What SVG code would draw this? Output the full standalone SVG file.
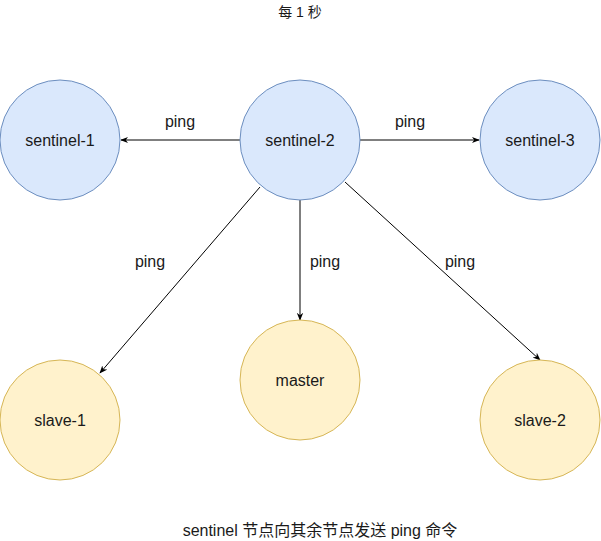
<svg xmlns="http://www.w3.org/2000/svg" width="601" height="541" viewBox="0 0 601 541">
<style>
text{font-family:"Liberation Sans","Noto Sans CJK SC",sans-serif;font-size:16px;fill:#1a1a1a;text-anchor:middle;dominant-baseline:central}
.title{font-size:14px}
.blue{fill:#dae8fc;stroke:#6c8ebf;stroke-width:1}
.yel{fill:#fff2cc;stroke:#d6b656;stroke-width:1}
.edge{stroke:#000;stroke-width:1;fill:none;marker-end:url(#arr)}
</style>
<defs>
<marker id="arr" viewBox="0 0 10 10" refX="9" refY="5" markerWidth="8" markerHeight="8" markerUnits="userSpaceOnUse" orient="auto">
<path d="M0,1 L10,5 L0,9 L3,5 Z" fill="#000"/>
</marker>
</defs>
<rect width="601" height="541" fill="#fff"/>
<text class="title" x="300" y="12">每 1 秒</text>
<g id="edges">
<line class="edge" x1="240" y1="140" x2="121" y2="140"/>
<line class="edge" x1="360" y1="140" x2="479" y2="140"/>
<line class="edge" x1="260" y1="187" x2="100" y2="373"/>
<line class="edge" x1="300" y1="200" x2="300" y2="320"/>
<line class="edge" x1="345" y1="182" x2="540" y2="360"/>
<text x="180" y="121">ping</text>
<text x="410" y="121">ping</text>
<text x="150" y="261">ping</text>
<text x="325" y="261">ping</text>
<text x="460" y="261">ping</text>
</g>
<g id="sentinel-1"><circle class="blue" cx="60" cy="140" r="60"/><text x="60" y="140">sentinel-1</text></g>
<g id="sentinel-2"><circle class="blue" cx="300" cy="140" r="60"/><text x="300" y="140">sentinel-2</text></g>
<g id="sentinel-3"><circle class="blue" cx="540" cy="140" r="60"/><text x="540" y="140">sentinel-3</text></g>
<g id="master"><circle class="yel" cx="300" cy="380" r="60"/><text x="300" y="380">master</text></g>
<g id="slave-1"><circle class="yel" cx="60" cy="420" r="60"/><text x="60" y="420">slave-1</text></g>
<g id="slave-2"><circle class="yel" cx="540" cy="420" r="60"/><text x="540" y="420">slave-2</text></g>
<text x="320" y="530">sentinel 节点向其余节点发送 ping 命令</text>
</svg>
